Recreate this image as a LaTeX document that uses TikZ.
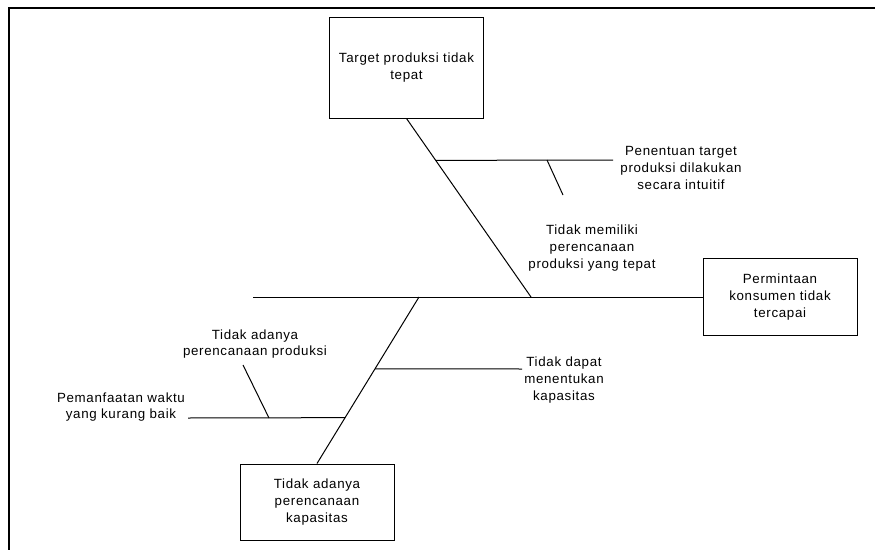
\documentclass[tikz,border=0pt]{standalone}
\usepackage{fontspec}
\setmainfont{Liberation Sans}[LetterSpace=5]
\usetikzlibrary{calc,positioning}
\tikzset{
  bone/.style={line width=0.75pt},
  causebox/.style={draw,line width=0.75pt,minimum width=115.5pt,inner sep=2pt,align=center},
  causetext/.style={align=center,inner sep=1pt},
  every node/.style={font=\fontsize{10}{12.6}\selectfont}
}

\begin{document}
\begin{tikzpicture}[x=0.75pt,y=-0.75pt,line join=miter]
  % Window & frame
  \useasboundingbox (0,0) rectangle (875,550);
  \draw[line width=1.5pt] (875,8) -- (9,8) -- (9,550);

  % Head and main causes
  \node[causebox,minimum height=75.75pt] (target) at (406.5,67.5) {Target produksi tidak\\tepat};
  \node[causebox,minimum height=57.75pt] (effect) at (780,297) {Permintaan\\konsumen tidak\\tercapai};
  \node[causebox,minimum height=57pt] (capacity) at (317,502) {Tidak adanya\\perencanaan\\kapasitas};

  % Spine
  \coordinate (tail) at (253,297);
  \coordinate (up) at (531,297);
  \coordinate (lo) at (419,297);
  \draw[bone] (tail) -- (effect.west);

  % Main bones
  \draw[bone] (target.south) -- (up);
  \draw[bone] (lo) -- (capacity.north);

  % Upper branch
  \coordinate (upb) at ($(target.south)!0.2346!(up)$);
  \coordinate (upbend) at (613,160);
  \draw[bone] (upb) -- (upbend);
  \coordinate (upsub) at (547,160);
  \coordinate (upsubend) at (563,195);
  \draw[bone] (upsub) -- (upsubend);
  \node[causetext] (intuitif) at (681,168) {Penentuan target\\produksi dilakukan\\secara intuitif};
  \node[causetext] (plan) at (592,248) {Tidak memiliki\\perencanaan\\produksi yang tepat};

  % Lower branches
  \coordinate (lob) at ($(lo)!0.431!(capacity.north)$);
  \coordinate (lobend) at (522,369);
  \draw[bone] (lob) -- (lobend);
  \node[causetext] (kapasitas) at (564,380) {Tidak dapat\\menentukan\\kapasitas};

  \coordinate (lol) at ($(lo)!0.7246!(capacity.north)$);
  \coordinate (lolend) at (188,418);
  \draw[bone] (lol) -- (lolend);
  \coordinate (losub) at (269,418);
  \coordinate (losubend) at (243,365);
  \draw[bone] (losub) -- (losubend);
  \node[causetext] (produksi) at (255,344) {Tidak adanya\\perencanaan produksi};
  \node[causetext] (waktu) at (121,407) {Pemanfaatan waktu\\yang kurang baik};

\end{tikzpicture}
\end{document}
